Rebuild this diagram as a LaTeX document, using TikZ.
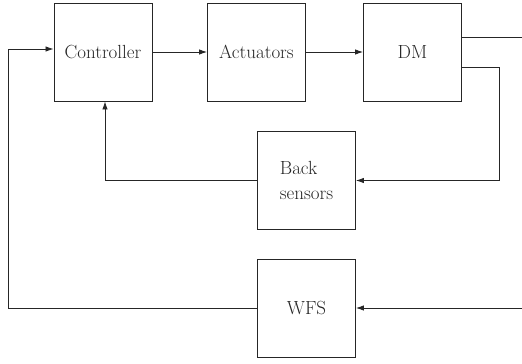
\documentclass[tikz,border=0pt]{standalone}
\usetikzlibrary{arrows.meta}
\definecolor{ink}{rgb}{0.15,0.15,0.15}
\begin{document}
\begin{tikzpicture}[x=1pt,y=-1pt,
  blk/.style={draw=ink,line width=0.9pt,minimum width=98pt,minimum height=98pt,inner sep=0pt,font=\fontsize{19}{25}\selectfont,text=ink},
  conn/.style={draw=ink,line width=0.8pt},
  arr/.style={conn,-{Latex[length=8pt,width=5.5pt]}}]
\useasboundingbox (0,0) rectangle (522,364);
\node[blk] (ctrl) at (103,52) {Controller};
\node[blk] (act) at (256.5,52) {Actuators};
\node[blk] (dm) at (412.5,52) {DM};
\node[blk,align=left] (back) at (306.5,180.5) {Back\\sensors};
\node[blk] (wfs) at (306.5,308) {WFS};
\coordinate (out1) at (522,37);
\coordinate (c1) at (499,67);
\coordinate (in2) at (522,308);
\coordinate (c2) at (8,308);
\draw[arr] (ctrl.east) -- (act.west);
\draw[arr] (act.east) -- (dm.west);
\draw[conn] (dm.east |- out1) -- (out1);
\draw[arr] (dm.east |- c1) -- (c1) |- (back.east);
\draw[arr] (back.west) -| ([xshift=2pt]ctrl.south);
\draw[arr] (in2) -- (wfs.east);
\draw[arr] (wfs.west) -- (c2) |- ([yshift=3pt]ctrl.west);
\end{tikzpicture}
\end{document}
